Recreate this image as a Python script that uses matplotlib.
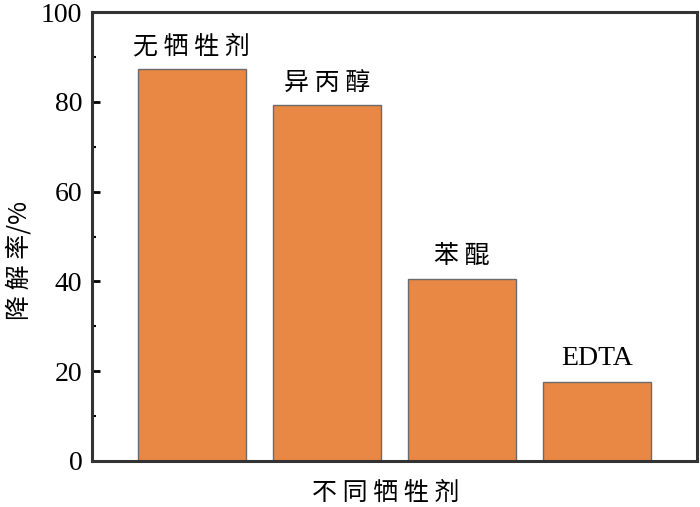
import matplotlib
matplotlib.use("Agg")
import matplotlib.pyplot as plt
from matplotlib.ticker import MultipleLocator

categories = ["无牺牲剂", "异丙醇", "苯醌", "EDTA"]
values = [87.3, 79.2, 40.5, 17.5]
yticks = [0, 20, 40, 60, 80, 100]

plt.rcParams['font.family'] = ['Liberation Serif', 'Noto Sans CJK SC']
cjk = ['Noto Sans CJK SC', 'Liberation Serif']

def spaced(s):
    return s if s.isascii() else " ".join(s)

fig = plt.figure(figsize=(7.0, 5.07), dpi=100)
ax = fig.add_axes([92/700, 1-461/507, 605/700, 449/507])

x = list(range(len(categories)))
bars = ax.bar(x, values, width=0.8, color='#E98744', edgecolor='#6b6b6b', linewidth=1.0)
for xi, v, c in zip(x, values, categories):
    if c.isascii():
        ax.text(xi, v + 2.6, c, ha='center', va='bottom', fontsize=20, family=['Liberation Serif'])
    else:
        ax.text(xi, v + 2.2, spaced(c), ha='center', va='bottom', fontsize=18, family=cjk,
                fontweight='light')

ax.set_xlim(-0.74, 3.74)
ax.set_ylim(0, 100)
ax.set_yticks(yticks)
ax.yaxis.set_minor_locator(MultipleLocator(10))
ax.set_xticks([])
ax.tick_params(axis='y', which='major', direction='in', length=6, width=2, labelsize=20, pad=7)
ax.tick_params(axis='y', which='minor', direction='in', length=3, width=1.5)
for s in ax.spines.values():
    s.set_linewidth(2.2)
    s.set_color('#333333')

ax.set_xlabel(spaced("不同牺牲剂"), fontsize=18, family=cjk, fontweight='light')
ax.set_ylabel("降 解 率/%", fontsize=18, family=cjk, fontweight='light')
ax.xaxis.set_label_coords((386-92)/605, -(493-461)/449)
ax.xaxis.label.set_va('center')
ax.yaxis.set_label_coords(-(92-20)/605, (461-260)/449)
ax.yaxis.label.set_va('center')

fig.savefig("out.png", dpi=100)
